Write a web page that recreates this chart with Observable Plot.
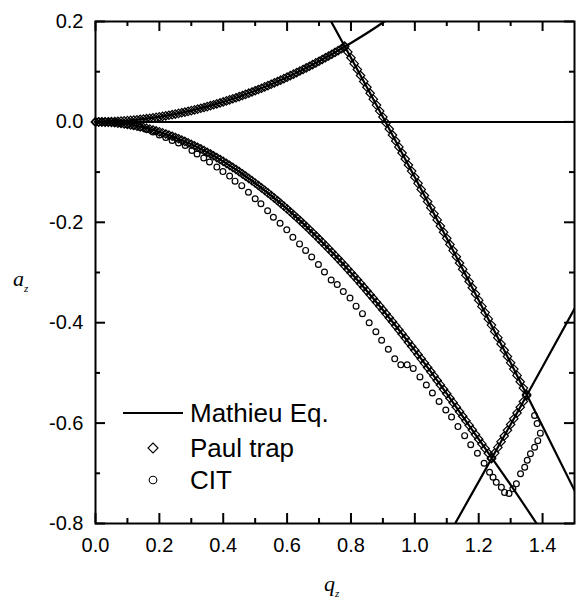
<!DOCTYPE html>
<html><head><meta charset="utf-8">
<script src="https://cdn.jsdelivr.net/npm/d3@7"></script>
<script src="https://cdn.jsdelivr.net/npm/@observablehq/plot@0.6"></script>
<style>html,body{margin:0;padding:0;background:#fff} svg{display:block}</style>
</head><body><div id="chart"></div>
<script>
// ---- tick values ----
const xMajorTicks = [0, 0.2, 0.4, 0.6, 0.8, 1.0, 1.2, 1.4];
const xMinorTicks = [0.1, 0.3, 0.5, 0.7, 0.9, 1.1, 1.3];
const yMajorTicks = [-0.8, -0.6, -0.4, -0.2, 0, 0.2];
const yMinorTicks = [-0.7, -0.5, -0.3, -0.1, 0.1];

// ---- Mathieu Eq. boundaries (q_z, a_z) ----
const zeroLine = [0];
const mathieuUpper = [[0,0],[0.1,0.0025],[0.2,0.0100],[0.3,0.0224],[0.4,0.0398],[0.5,0.0621],[0.6,0.0891],[0.7,0.1209],[0.8,0.1572],[0.9,0.1980],[0.95,0.2250]];
const mathieuLower = [[0,0],[0.1,-0.005],[0.2,-0.0199],[0.3,-0.0446],[0.4,-0.0787],[0.5,-0.1218],[0.6,-0.1734],[0.7,-0.2332],[0.8,-0.3003],[0.9,-0.3747],[1.0,-0.4551],[1.1,-0.5415],[1.2,-0.6321],[1.3,-0.7230],[1.4,-0.8180]];
const mathieuBetaZ1 = [[0.7,0.2439],[0.8,0.1277],[0.9,0.0097],[1.0,-0.1103],[1.1,-0.2319],[1.2,-0.3551],[1.3,-0.4799],[1.4,-0.6062],[1.5,-0.7341]];
const mathieuBetaR1 = [[1.1,-0.8295],[1.2,-0.7166],[1.3,-0.6027],[1.4,-0.4879],[1.5,-0.3721]];

// ---- Paul trap (diamonds) ----
const paulUpper = [[0,0],[0.01,0],[0.02,0.0001],[0.03,0.0002],[0.04,0.0004],[0.05,0.0006],[0.06,0.0009],[0.07,0.0012],[0.08,0.0016],[0.09,0.002],[0.1,0.0025],[0.11,0.003],[0.12,0.0036],[0.13,0.0042],[0.14,0.0049],[0.15,0.0056],[0.16,0.0064],[0.17,0.0072],[0.18,0.0081],[0.19,0.009],[0.2,0.01],[0.21,0.011],[0.22,0.0121],[0.23,0.0132],[0.24,0.0144],[0.25,0.0156],[0.26,0.0169],[0.27,0.0182],[0.28,0.0196],[0.29,0.021],[0.3,0.0224],[0.31,0.0239],[0.32,0.0255],[0.33,0.0271],[0.34,0.0288],[0.35,0.0305],[0.36,0.0323],[0.37,0.0341],[0.38,0.036],[0.39,0.0378],[0.4,0.0398],[0.41,0.0418],[0.42,0.0439],[0.43,0.046],[0.44,0.0481],[0.45,0.0503],[0.46,0.0526],[0.47,0.0549],[0.48,0.0572],[0.49,0.0596],[0.5,0.0621],[0.51,0.0645],[0.52,0.0671],[0.53,0.0697],[0.54,0.0723],[0.55,0.075],[0.56,0.0777],[0.57,0.0805],[0.58,0.0833],[0.59,0.0862],[0.6,0.0891],[0.61,0.0921],[0.62,0.0951],[0.63,0.0981],[0.64,0.1013],[0.65,0.1044],[0.66,0.1076],[0.67,0.1108],[0.68,0.1141],[0.69,0.1175],[0.7,0.1209],[0.71,0.1243],[0.72,0.1278],[0.73,0.1313],[0.74,0.1348],[0.75,0.1384],[0.76,0.1421],[0.77,0.1458],[0.78,0.1496]];
const paulLower = [[0,0],[0.01,-0.0001],[0.02,-0.0002],[0.03,-0.0005],[0.04,-0.0008],[0.05,-0.0013],[0.06,-0.0018],[0.07,-0.0025],[0.08,-0.0032],[0.09,-0.0041],[0.1,-0.005],[0.11,-0.0060],[0.12,-0.0072],[0.13,-0.0084],[0.14,-0.0098],[0.15,-0.0112],[0.16,-0.0128],[0.17,-0.0144],[0.18,-0.0161],[0.19,-0.018],[0.2,-0.0199],[0.21,-0.0219],[0.22,-0.0241],[0.23,-0.0263],[0.24,-0.0286],[0.25,-0.031],[0.26,-0.0336],[0.27,-0.0362],[0.28,-0.0389],[0.29,-0.0417],[0.3,-0.0446],[0.31,-0.0476],[0.32,-0.0506],[0.33,-0.0538],[0.34,-0.0571],[0.35,-0.0605],[0.36,-0.0639],[0.37,-0.0675],[0.38,-0.0711],[0.39,-0.0748],[0.4,-0.0787],[0.41,-0.0826],[0.42,-0.0866],[0.43,-0.0907],[0.44,-0.0948],[0.45,-0.0991],[0.46,-0.1035],[0.47,-0.1079],[0.48,-0.1125],[0.49,-0.1171],[0.5,-0.1218],[0.51,-0.1266],[0.52,-0.1315],[0.53,-0.1364],[0.54,-0.1414],[0.55,-0.1466],[0.56,-0.1518],[0.57,-0.1571],[0.58,-0.1624],[0.59,-0.1679],[0.6,-0.1734],[0.61,-0.1791],[0.62,-0.1848],[0.63,-0.1905],[0.64,-0.1964],[0.65,-0.2023],[0.66,-0.2083],[0.67,-0.2144],[0.68,-0.2206],[0.69,-0.2268],[0.7,-0.2332],[0.71,-0.2395],[0.72,-0.246],[0.73,-0.2525],[0.74,-0.2592],[0.75,-0.2659],[0.76,-0.2726],[0.77,-0.2794],[0.78,-0.2863],[0.79,-0.2933],[0.8,-0.3003],[0.81,-0.3075],[0.82,-0.3145],[0.83,-0.322],[0.84,-0.3293],[0.85,-0.3367],[0.86,-0.3442],[0.87,-0.3517],[0.88,-0.3593],[0.89,-0.3669],[0.9,-0.3747],[0.91,-0.3824],[0.92,-0.3903],[0.93,-0.3982],[0.94,-0.4062],[0.95,-0.4142],[0.96,-0.4223],[0.97,-0.4305],[0.98,-0.4387],[0.99,-0.447],[1.0,-0.4551],[1.01,-0.4635],[1.02,-0.472],[1.03,-0.4805],[1.04,-0.4891],[1.05,-0.4977],[1.06,-0.5064],[1.07,-0.5151],[1.08,-0.5239],[1.09,-0.5327],[1.1,-0.5415],[1.11,-0.5504],[1.12,-0.5593],[1.13,-0.5683],[1.14,-0.5773],[1.15,-0.5863],[1.16,-0.5954],[1.17,-0.6045],[1.18,-0.6137],[1.19,-0.6229],[1.2,-0.6321],[1.21,-0.6414],[1.22,-0.6507],[1.23,-0.66],[1.24,-0.6694]];
const paulBetaZ1 = [[0.78,0.1511],[0.79,0.1394],[0.8,0.1277],[0.81,0.116],[0.82,0.1043],[0.83,0.0925],[0.84,0.0807],[0.85,0.069],[0.86,0.0571],[0.87,0.0453],[0.88,0.0335],[0.89,0.0216],[0.9,0.0097],[0.91,-0.0022],[0.92,-0.0141],[0.93,-0.026],[0.94,-0.038],[0.95,-0.0499],[0.96,-0.0619],[0.97,-0.0739],[0.98,-0.0859],[0.99,-0.098],[1.0,-0.1103],[1.01,-0.1224],[1.02,-0.1345],[1.03,-0.1466],[1.04,-0.1587],[1.05,-0.1709],[1.06,-0.1831],[1.07,-0.1952],[1.08,-0.2075],[1.09,-0.2197],[1.1,-0.2319],[1.11,-0.2441],[1.12,-0.2564],[1.13,-0.2687],[1.14,-0.281],[1.15,-0.2933],[1.16,-0.3056],[1.17,-0.318],[1.18,-0.3303],[1.19,-0.3427],[1.2,-0.3551],[1.21,-0.3675],[1.22,-0.3799],[1.23,-0.3924],[1.24,-0.4048],[1.25,-0.4173],[1.26,-0.4298],[1.27,-0.4423],[1.28,-0.4548],[1.29,-0.4673],[1.3,-0.4799],[1.31,-0.4924],[1.32,-0.505],[1.33,-0.5176],[1.34,-0.5302],[1.35,-0.5428]];
const paulBetaR1 = [[1.24,-0.6711],[1.25,-0.6598],[1.26,-0.6484],[1.27,-0.637],[1.28,-0.6256],[1.29,-0.6142],[1.3,-0.6027],[1.31,-0.5913],[1.32,-0.5798],[1.33,-0.5684],[1.34,-0.5569],[1.35,-0.5454]];

// ---- CIT (circles) ----
const cit = [[0,0],[0.02,-0.0003],[0.04,-0.001],[0.06,-0.002],[0.08,-0.0035],[0.1,-0.0055],[0.12,-0.008],[0.14,-0.011],[0.16,-0.015],[0.18,-0.02],[0.2,-0.026],[0.22,-0.031],[0.240,-0.037],[0.260,-0.042],[0.281,-0.047],[0.302,-0.057],[0.318,-0.064],[0.339,-0.072],[0.357,-0.080],[0.380,-0.090],[0.399,-0.099],[0.420,-0.108],[0.437,-0.118],[0.458,-0.127],[0.479,-0.140],[0.500,-0.153],[0.518,-0.163],[0.539,-0.177],[0.557,-0.190],[0.578,-0.202],[0.599,-0.215],[0.618,-0.230],[0.639,-0.243],[0.658,-0.256],[0.677,-0.269],[0.698,-0.284],[0.717,-0.299],[0.738,-0.315],[0.757,-0.324],[0.776,-0.338],[0.797,-0.351],[0.816,-0.367],[0.836,-0.382],[0.857,-0.400],[0.878,-0.418],[0.896,-0.435],[0.917,-0.453],[0.937,-0.472],[0.956,-0.484],[0.976,-0.484],[0.995,-0.491],[1.016,-0.508],[1.036,-0.524],[1.055,-0.540],[1.076,-0.557],[1.097,-0.574],[1.115,-0.588],[1.135,-0.607],[1.156,-0.625],[1.175,-0.643],[1.196,-0.660],[1.217,-0.680],[1.234,-0.698],[1.245,-0.708],[1.255,-0.718],[1.271,-0.728],[1.281,-0.738],[1.295,-0.740],[1.307,-0.731],[1.318,-0.721],[1.331,-0.701],[1.344,-0.688],[1.352,-0.674],[1.362,-0.661],[1.375,-0.648],[1.385,-0.635],[1.393,-0.620],[1.383,-0.601],[1.375,-0.585]];

const W = 577, H = 602;
const M = {top: 21, right: 3, bottom: 79, left: 95};
const innerW = W - M.left - M.right, innerH = H - M.top - M.bottom;
const sans = "'Liberation Sans', Arial, Helvetica, sans-serif";
const serif = "'Liberation Serif', 'Times New Roman', serif";
const fmt = d => (d < -1e-9 ? "-" : "") + Math.abs(d).toFixed(1);

function annotations(index, scales, values, dims) {
  const g = d3.create("svg:g").attr("fill", "black").attr("text-anchor", "start");
  const L = dims.marginLeft, T = dims.marginTop;
  // y-axis label a_z
  const ya = g.append("text").attr("font-family", serif).attr("font-style", "italic")
    .attr("font-size", 22).attr("x", 13).attr("y", T + 265);
  ya.append("tspan").text("a");
  ya.append("tspan").attr("font-size", 11).attr("dy", 6).text("z");
  // x-axis label q_z
  const xa = g.append("text").attr("font-family", serif).attr("font-style", "italic")
    .attr("font-size", 22).attr("x", L + 229).attr("y", T + 570);
  xa.append("tspan").text("q");
  xa.append("tspan").attr("font-size", 11).attr("dy", 6).text("z");
  // legend
  const lg = g.append("g").attr("font-family", sans).attr("font-size", 26).attr("text-anchor", "start");
  const rows = [
    {key: "line", label: "Mathieu Eq.", cy: T + 392},
    {key: "diamond", label: "Paul trap", cy: T + 427},
    {key: "circle", label: "CIT", cy: T + 459}
  ];
  const sx = L + 58;
  for (const r of rows) {
    if (r.key === "line") {
      lg.append("line").attr("x1", L + 28).attr("x2", L + 88).attr("y1", r.cy).attr("y2", r.cy)
        .attr("stroke", "black").attr("stroke-width", 2);
    } else if (r.key === "diamond") {
      lg.append("path").attr("transform", `translate(${sx},${r.cy})`)
        .attr("d", "M0,-5L5,0L0,5L-5,0Z").attr("fill", "none").attr("stroke", "black").attr("stroke-width", 1.1);
    } else {
      lg.append("circle").attr("cx", sx).attr("cy", r.cy).attr("r", 3.8)
        .attr("fill", "none").attr("stroke", "black").attr("stroke-width", 1.1);
    }
    lg.append("text").attr("x", L + 95).attr("y", r.cy).attr("dy", "0.36em").text(r.label);
  }
  return g.node();
}

const lineOpts = {x: d => d[0], y: d => d[1], stroke: "black", strokeWidth: 2.2, curve: "natural", clip: true};
const diaOpts = {x: d => d[0], y: d => d[1], symbol: "diamond2", r: 3.8, fill: "none", stroke: "black", strokeWidth: 1.2};

const chart = Plot.plot({
  width: W, height: H,
  marginTop: M.top, marginRight: M.right, marginBottom: M.bottom, marginLeft: M.left,
  style: {fontFamily: sans, fontSize: "20px", background: "white", color: "black"},
  x: {domain: [0, 1.5], label: null},
  y: {domain: [-0.8, 0.2], label: null},
  marks: [
    Plot.ruleY(zeroLine, {y: d => d, stroke: "black", strokeWidth: 2}),
    Plot.line(mathieuUpper, lineOpts),
    Plot.line(mathieuLower, lineOpts),
    Plot.line(mathieuBetaZ1, lineOpts),
    Plot.line(mathieuBetaR1, lineOpts),
    Plot.dot(paulUpper, diaOpts),
    Plot.dot(paulLower, diaOpts),
    Plot.dot(paulBetaZ1, diaOpts),
    Plot.dot(paulBetaR1, diaOpts),
    Plot.dot(cit, {x: d => d[0], y: d => d[1], r: 2.9, fill: "none", stroke: "black", strokeWidth: 1.2}),
    // inner ticks
    Plot.ruleX(xMajorTicks, {x: d => d, insetTop: innerH - 10, stroke: "black", strokeWidth: 2}),
    Plot.ruleX(xMajorTicks, {x: d => d, insetBottom: innerH - 10, stroke: "black", strokeWidth: 2}),
    Plot.ruleX(xMinorTicks, {x: d => d, insetTop: innerH - 5, stroke: "black", strokeWidth: 2}),
    Plot.ruleX(xMinorTicks, {x: d => d, insetBottom: innerH - 5, stroke: "black", strokeWidth: 2}),
    Plot.ruleY(yMajorTicks, {y: d => d, insetRight: innerW - 10, stroke: "black", strokeWidth: 2}),
    Plot.ruleY(yMajorTicks, {y: d => d, insetLeft: innerW - 10, stroke: "black", strokeWidth: 2}),
    Plot.ruleY(yMinorTicks, {y: d => d, insetRight: innerW - 5, stroke: "black", strokeWidth: 2}),
    Plot.ruleY(yMinorTicks, {y: d => d, insetLeft: innerW - 5, stroke: "black", strokeWidth: 2}),
    Plot.axisX({ticks: xMajorTicks, tickSize: 0, tickPadding: 14, tickFormat: fmt, fontSize: 20, label: null}),
    Plot.axisY({ticks: yMajorTicks, tickSize: 0, tickPadding: 12, tickFormat: fmt, fontSize: 20, label: null}),
    Plot.frame({stroke: "black", strokeWidth: 2}),
    annotations
  ]
});
document.getElementById("chart").append(chart);
</script>
</body></html>
